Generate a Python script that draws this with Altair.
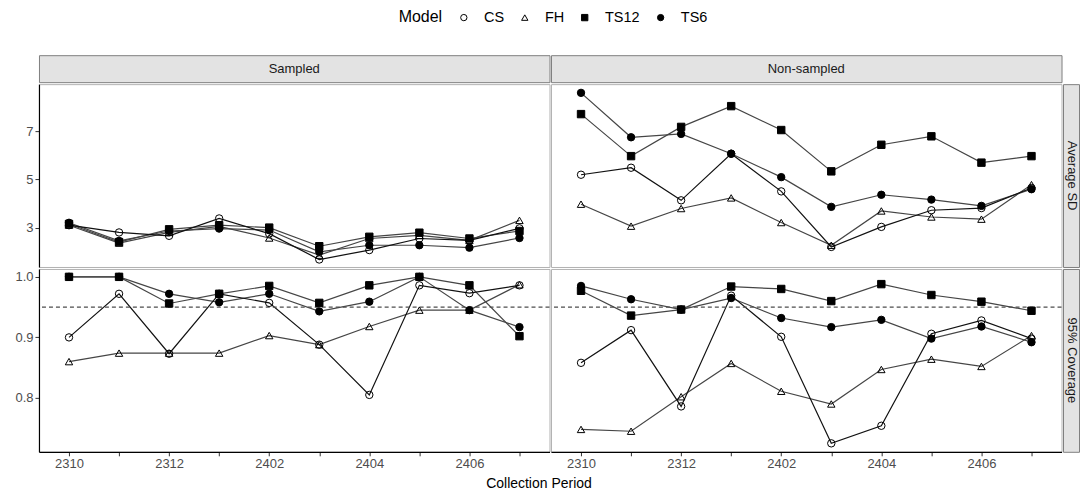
import altair as alt
import pandas as pd

FONT = "Liberation Sans"

periods = ["2310", "2311", "2312", "2401", "2402", "2403", "2404", "2405", "2406", "2407"]
tick_labels = ["2310", "2312", "2402", "2404", "2406"]
models = ["CS", "FH", "TS12", "TS6"]
groups = ["Sampled", "Non-sampled"]
metrics = ["Average SD", "95% Coverage"]

# Average SD, Sampled
sd_sampled_cs = [3.10, 2.80, 2.66, 3.38, 2.75, 1.68, 2.07, 2.55, 2.47, 2.97]
sd_sampled_fh = [3.10, 2.36, 2.80, 3.05, 2.57, 1.86, 2.55, 2.68, 2.47, 3.30]
sd_sampled_ts12 = [3.15, 2.40, 2.93, 3.10, 3.00, 2.23, 2.62, 2.79, 2.55, 2.86]
sd_sampled_ts6 = [3.20, 2.45, 2.86, 2.96, 2.90, 2.00, 2.27, 2.27, 2.17, 2.57]
# Average SD, Non-sampled
sd_non_cs = [5.19, 5.48, 4.13, 6.06, 4.50, 2.20, 3.03, 3.72, 3.81, 4.64]
sd_non_fh = [3.97, 3.06, 3.79, 4.23, 3.21, 2.27, 3.69, 3.44, 3.35, 4.78]
sd_non_ts12 = [7.70, 5.96, 7.17, 8.03, 7.04, 5.33, 6.43, 6.78, 5.69, 5.96]
sd_non_ts6 = [8.58, 6.74, 6.88, 6.06, 5.09, 3.86, 4.36, 4.16, 3.90, 4.59]
# 95% Coverage, Sampled
cov_sampled_cs = [0.900, 0.972, 0.873, 0.972, 0.957, 0.888, 0.805, 0.986, 0.973, 0.986]
cov_sampled_fh = [0.860, 0.874, 0.874, 0.874, 0.903, 0.888, 0.918, 0.945, 0.945, 0.987]
cov_sampled_ts12 = [1.000, 1.000, 0.956, 0.972, 0.985, 0.957, 0.986, 1.000, 0.986, 0.902]
cov_sampled_ts6 = [1.000, 1.000, 0.972, 0.958, 0.972, 0.943, 0.959, 1.000, 0.945, 0.917]
# 95% Coverage, Non-sampled
cov_non_cs = [0.858, 0.912, 0.786, 0.969, 0.901, 0.725, 0.754, 0.906, 0.928, 0.898]
cov_non_fh = [0.748, 0.745, 0.802, 0.857, 0.811, 0.790, 0.847, 0.864, 0.852, 0.903]
cov_non_ts12 = [0.977, 0.936, 0.946, 0.984, 0.980, 0.960, 0.988, 0.970, 0.959, 0.944]
cov_non_ts6 = [0.985, 0.963, 0.946, 0.965, 0.932, 0.917, 0.929, 0.898, 0.918, 0.892]

target_coverage = [0.95]

series = {
    ("Average SD", "Sampled"): [sd_sampled_cs, sd_sampled_fh, sd_sampled_ts12, sd_sampled_ts6],
    ("Average SD", "Non-sampled"): [sd_non_cs, sd_non_fh, sd_non_ts12, sd_non_ts6],
    ("95% Coverage", "Sampled"): [cov_sampled_cs, cov_sampled_fh, cov_sampled_ts12, cov_sampled_ts6],
    ("95% Coverage", "Non-sampled"): [cov_non_cs, cov_non_fh, cov_non_ts12, cov_non_ts6],
}

rows = []
for (metric, group), vals in series.items():
    for model, vs in zip(models, vals):
        for p, v in zip(periods, vs):
            rows.append({"Metric": metric, "Group": group, "Model": model, "Period": p, "Value": v})
df = pd.DataFrame(rows)

W = 511
H = 183
STRIP_W = 16
domains = {"Average SD": [1.37, 8.94], "95% Coverage": [0.711, 1.013]}
yticks = {"Average SD": [3, 5, 7], "95% Coverage": [0.8, 0.9, 1.0]}
yfmt = {"Average SD": "d", "95% Coverage": ".1f"}

legend = alt.Legend(
    title="Model", orient="none", direction="horizontal", legendX=360, legendY=-45,
    titleOrient="left", titleFontSize=16, titleFont=FONT, titleFontWeight="normal",
    titleColor="black", labelFont=FONT, labelFontSize=14.5, labelColor="black",
    symbolStrokeColor="black", symbolStrokeWidth=1, symbolSize=40,
    columnPadding=13, labelOffset=13, titlePadding=14,
)
shape_scale = alt.Scale(domain=models, range=["circle", "triangle-up", "square", "circle"])
fill_scale = alt.Scale(domain=models, range=["transparent", "transparent", "black", "black"])
stroke_scale = alt.Scale(domain=models, range=["black", "black", "black", "black"])


def panel(metric, group, show_y, show_x):
    d = df[(df.Metric == metric) & (df.Group == group)]
    xaxis = alt.Axis(title=None, labelExpr="indexof(%s, datum.value) >= 0 ? datum.value : ''" % str(tick_labels),
                     labelAngle=0) if show_x else None
    yaxis = alt.Axis(title=None, values=yticks[metric], format=yfmt[metric]) if show_y else None
    ysc = alt.Scale(domain=domains[metric], nice=False, zero=False)
    x = alt.X("Period:O", scale=alt.Scale(type="point", domain=periods, padding=0.6), axis=xaxis)
    y = alt.Y("Value:Q", scale=ysc, axis=yaxis)
    base = alt.Chart(d)
    lines_other = base.transform_filter("datum.Model != 'CS'").mark_line(
        strokeWidth=1.2, color="#454545").encode(x=x, y=y, detail="Model:N")
    lines_cs = base.transform_filter("datum.Model == 'CS'").mark_line(
        strokeWidth=1.2, color="#111111").encode(x=x, y=y, detail="Model:N")
    points = base.mark_point(size=55, strokeWidth=1, opacity=1).encode(
        x=x, y=y,
        shape=alt.Shape("Model:N", scale=shape_scale, legend=legend),
        fill=alt.Fill("Model:N", scale=fill_scale, legend=legend),
        stroke=alt.Stroke("Model:N", scale=stroke_scale, legend=legend),
    )
    layers = [lines_other, lines_cs]
    if metric == "95% Coverage":
        rule = alt.Chart(pd.DataFrame({"Value": target_coverage})).mark_rule(
            strokeDash=[4, 3], color="#4d4d4d", strokeWidth=1.1
        ).encode(y=alt.Y("Value:Q", scale=ysc, axis=yaxis))
        layers.append(rule)
    layers.append(points)
    return alt.layer(*layers).properties(width=W, height=H)


def top_strip(label):
    return alt.Chart(pd.DataFrame({"t": [label]})).mark_text(
        font=FONT, fontSize=13, color="#1a1a1a", baseline="middle", align="center"
    ).encode(text="t:N", x=alt.value(W / 2), y=alt.value(14)).properties(
        width=W, height=27, view=alt.ViewBackground(fill="#e3e3e3", stroke="#7f7f7f")
    )


def right_strip(label):
    return alt.Chart(pd.DataFrame({"t": [label]})).mark_text(
        font=FONT, fontSize=13, color="#1a1a1a", baseline="middle", align="center", angle=90
    ).encode(text="t:N", x=alt.value(STRIP_W / 2 + 1), y=alt.value(H / 2)).properties(
        width=STRIP_W, height=H, view=alt.ViewBackground(fill="#e3e3e3", stroke="#7f7f7f")
    )


def blank():
    return alt.Chart(pd.DataFrame({"t": [""]})).mark_text(baseline="top", fontSize=1).encode(
        text="t:N", x=alt.value(2), y=alt.value(2)
    ).properties(width=STRIP_W, height=27, view=alt.ViewBackground(stroke="transparent", fill="transparent"))


cells = [
    top_strip("Sampled"), top_strip("Non-sampled"), blank(),
    panel("Average SD", "Sampled", True, False), panel("Average SD", "Non-sampled", False, False),
    right_strip("Average SD"),
    panel("95% Coverage", "Sampled", True, True), panel("95% Coverage", "Non-sampled", False, True),
    right_strip("95% Coverage"),
]

chart = alt.concat(*cells, columns=3, spacing=alt.RowColnumber(row=2, column=1.5), bounds="flush").resolve_scale(
    y="independent"
).properties(
    title=alt.TitleParams("Collection Period", orient="bottom", anchor="middle", fontSize=14,
                          fontWeight="normal", font=FONT, color="black", dx=-8, offset=6),
    padding={"left": 6, "top": 2, "right": 0, "bottom": 2},
).configure_view(
    stroke="#b3b3b3", strokeWidth=1
).configure_axis(
    labelFont=FONT, labelFontSize=13, labelColor="#4d4d4d", tickColor="#333333", tickSize=4,
    domainColor="black", domainWidth=1.2, grid=False, labelPadding=2
)

chart.save("out.html", embed_options={"renderer": "svg", "actions": False})
